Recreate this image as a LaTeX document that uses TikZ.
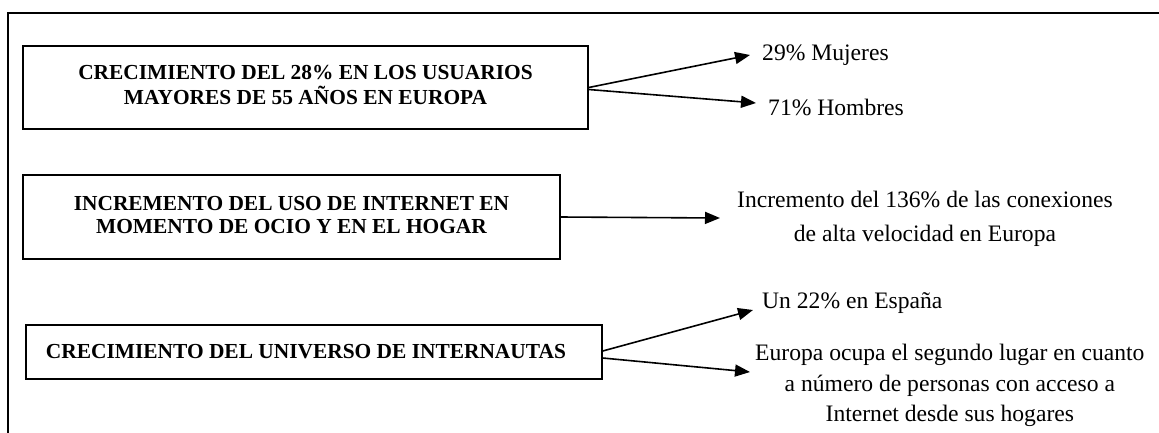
\documentclass[tikz,border=0pt]{standalone}
\usepackage{fontspec}
\setmainfont{Liberation Serif}
\usetikzlibrary{arrows.meta,calc}
\begin{document}
\begin{tikzpicture}[x=1bp,y=-1bp,
  frame/.style={line width=2bp},
  box/.style={draw,line width=1.4bp,inner sep=0pt,align=center,
    font=\fontsize{21.4bp}{23bp}\selectfont\bfseries},
  lbl/.style={anchor=west,inner ysep=0pt,align=center,
    font=\fontsize{23.6bp}{31bp}\selectfont},
  arr/.style={line width=1.6bp,-{Triangle[length=15bp,width=12bp]}}]
\useasboundingbox (0,0) rectangle (1159,432);
\draw[frame] (8,433) -- (8,13) -- (1160,13);
% boxes
\node[box,minimum width=565bp,minimum height=83bp] (b1) at (305.5,87.5)
  {\raisebox{5bp}{\begin{tabular}{@{}c@{}}CRECIMIENTO DEL 28\% EN LOS USUARIOS\\MAYORES DE 55 AÑOS EN EUROPA\end{tabular}}};
\node[box,minimum width=537bp,minimum height=84bp] (b2) at (291.5,217)
  {\raisebox{3bp}{\begin{tabular}{@{}c@{}}INCREMENTO DEL USO DE INTERNET EN\\MOMENTO DE OCIO Y EN EL HOGAR\end{tabular}}};
\node[box,minimum width=576bp,minimum height=54bp] (b3) at (314,352)
  {\hspace*{-16bp}CRECIMIENTO DEL UNIVERSO DE INTERNAUTAS};
% labels
\node[lbl,inner xsep=12bp] (mu) at (750,55) {29\% Mujeres};
\node[lbl,inner xsep=12bp] (ho) at (756,107) {71\% Hombres};
\node[lbl,inner xsep=17bp,font=\fontsize{23.6bp}{34bp}\selectfont] (inc) at (720,218.5)
  {Incremento del 136\% de las conexiones\\de alta velocidad en Europa};
\node[lbl,inner xsep=9bp] (un) at (753,303) {Un 22\% en España};
\node[lbl,inner xsep=5bp,font=\fontsize{23.6bp}{30.5bp}\selectfont] (eu) at (750,385.5)
  {Europa ocupa el segundo lugar en cuanto\\a número de personas con acceso a\\Internet desde sus hogares};
% connectors
\draw[arr] (b1.east) -- (mu.west);
\draw[arr] ($(b1.east)+(0,2)$) -- ($(ho.west)+(0,-4)$);
\draw[arr] (b2.east) -- ($(inc.west)+(0,-0.5)$);
\draw[arr] ($(b3.east)+(0,-1)$) -- ($(un.west)+(0,7)$);
\draw[arr] ($(b3.east)+(0,6)$) -- ($(eu.west)+(0,-13.5)$);
\end{tikzpicture}
\end{document}
